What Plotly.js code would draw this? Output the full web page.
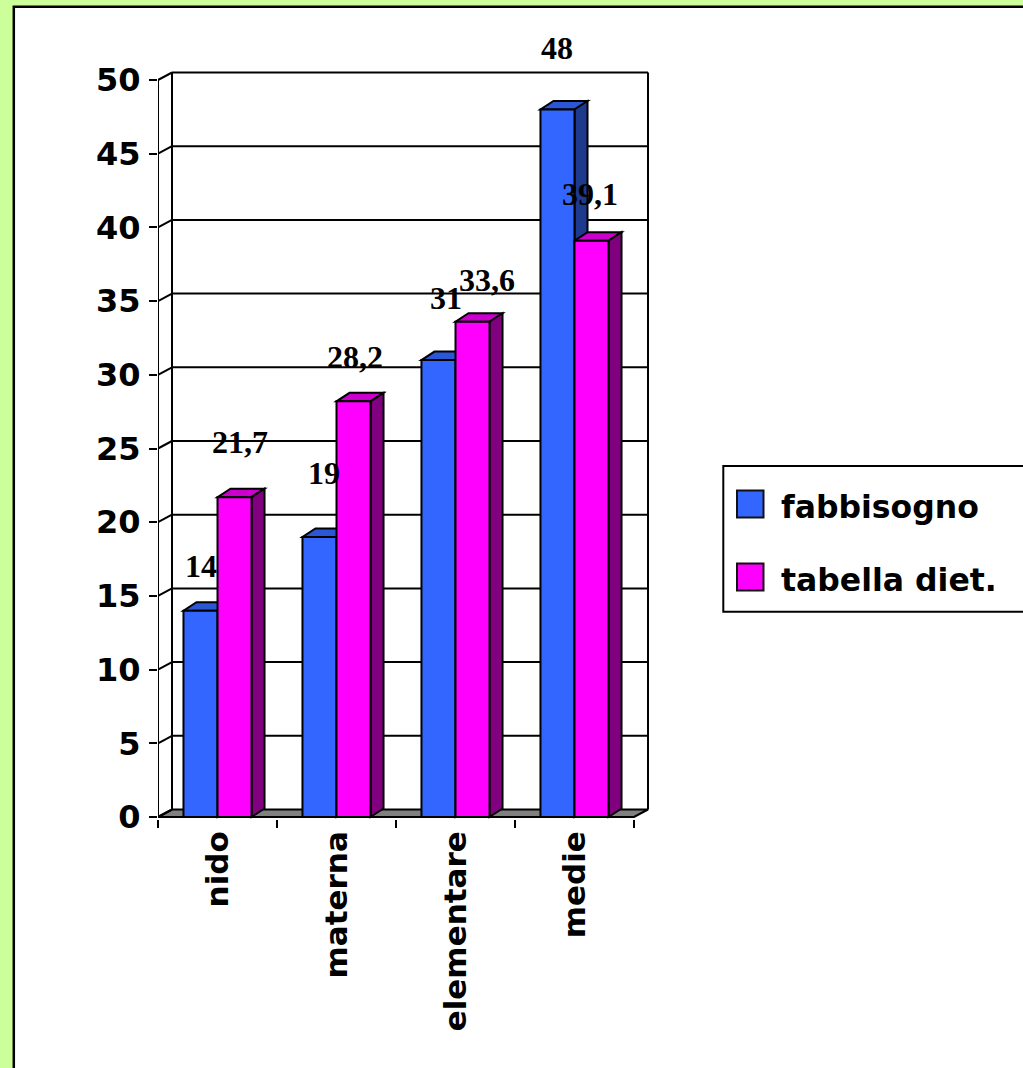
<!DOCTYPE html>
<html><head><meta charset="utf-8">
<script src="https://cdn.plot.ly/plotly-3.0.1.min.js"></script>
<style>html,body{margin:0;padding:0;background:#ccff99;} #chart{width:1023px;height:1068px;}</style>
</head><body><div id="chart"></div>
<script>
// ---- data ----
const categories = ['nido', 'materna', 'elementare', 'medie'];
const seriesNames = ['fabbisogno', 'tabella diet.'];
const fabbisogno = [14, 19, 31, 48];
const tabellaDiet = [21.7, 28.2, 33.6, 39.1];
const yTickValues = [0, 5, 10, 15, 20, 25, 30, 35, 40, 45, 50];

// ---- style / geometry ----
const W = 1023, H = 1068;
const PL = 158, PR = 652, PT = 68, PB = 819;
const CAT_PX = 119, Y0_PX = 817, PPU = 14.74;
const xr = [-0.5, -0.5 + (PR - PL) / CAT_PX];
const yr = [-(PB - Y0_PX) / PPU, (Y0_PX - PT) / PPU];
const WDX = 14 / CAT_PX, WDY = 7.5 / PPU, BDX = 13 / CAT_PX, BDY = 8.5 / PPU;
const BW = 0.286;
const ymax = yTickValues[yTickValues.length - 1];
const nCat = categories.length;
const styles = [
  {front: '#3366ff', top: '#2b56d6', side: '#1d3a8f', offset: -BW,
   labelDx: [1, 5, 8, 0], labelDy: [45, 64, 62, 61]},
  {front: '#ff00ff', top: '#cc00cc', side: '#800080', offset: 0,
   labelDx: [5, 1, 14, -2], labelDy: [55, 44, 42, 47]}
];
const series = [fabbisogno, tabellaDiet];
const px2x = p => (p - PL) / (PR - PL);
const py2y = p => (PB - p) / (PB - PT);
const LINE = {color: '#000', width: 2};

const shapes = [];
// outer white frame
shapes.push({type: 'rect', xref: 'paper', yref: 'paper', layer: 'below',
  x0: px2x(13.8), x1: px2x(1100), y0: py2y(6.7), y1: py2y(1150),
  fillcolor: '#ffffff', line: {color: '#000', width: 2.5}});
// floor
const xL = -0.5, xR = nCat - 0.5;
shapes.push({type: 'path', xref: 'x', yref: 'y', layer: 'below',
  path: `M ${xL},0 L ${xR},0 L ${xR + WDX},${WDY} L ${xL + WDX},${WDY} Z`,
  fillcolor: '#808080', line: LINE});
// back wall grid + side diagonals
yTickValues.forEach(v => {
  if (v > 0) shapes.push({type: 'line', xref: 'x', yref: 'y', layer: 'below',
    x0: xL + WDX, x1: xR + WDX, y0: v + WDY, y1: v + WDY, line: LINE});
  shapes.push({type: 'line', xref: 'x', yref: 'y', layer: 'below',
    x0: xL, x1: xL + WDX, y0: v, y1: v + WDY, line: LINE});
});
// wall verticals and front axis line
[[xL + WDX, WDY, ymax + WDY], [xR + WDX, WDY, ymax + WDY], [xL, 0, ymax]].forEach(s => {
  shapes.push({type: 'line', xref: 'x', yref: 'y', layer: 'below',
    x0: s[0], x1: s[0], y0: s[1], y1: s[2], line: LINE});
});
// 3D bar faces (top + side), computed from the data
series.forEach((vals, k) => {
  const st = styles[k];
  vals.forEach((v, i) => {
    const x0 = i + st.offset, x1 = x0 + BW;
    shapes.push({type: 'path', xref: 'x', yref: 'y', layer: 'below',
      path: `M ${x0},${v} L ${x1},${v} L ${x1 + BDX},${v + BDY} L ${x0 + BDX},${v + BDY} Z`,
      fillcolor: st.top, line: LINE});
    shapes.push({type: 'path', xref: 'x', yref: 'y', layer: 'below',
      path: `M ${x1},0 L ${x1 + BDX},${BDY} L ${x1 + BDX},${v + BDY} L ${x1},${v} Z`,
      fillcolor: st.side, line: LINE});
  });
});

// custom legend (large swatches)
shapes.push({type: 'rect', xref: 'paper', yref: 'paper',
  x0: px2x(723.3), x1: px2x(1100), y0: py2y(466), y1: py2y(611.7),
  fillcolor: 'rgba(0,0,0,0)', line: {color: '#000', width: 2}});
const legendRows = [504, 577];
const annotations = [];
seriesNames.forEach((name, k) => {
  const cy = legendRows[k];
  shapes.push({type: 'rect', xref: 'paper', yref: 'paper',
    x0: px2x(737), x1: px2x(763.5), y0: py2y(cy - 13.5), y1: py2y(cy + 13.5),
    fillcolor: styles[k].front, line: {color: '#111', width: 2}});
  annotations.push({xref: 'paper', yref: 'paper', x: px2x(779), y: py2y(cy + 3),
    xanchor: 'left', yanchor: 'middle', showarrow: false, text: name,
    font: {family: 'DejaVu Sans', size: 31.5, weight: 'bold', color: '#000'}});
});

// data labels
series.forEach((vals, k) => {
  const st = styles[k];
  vals.forEach((v, i) => {
    annotations.push({xref: 'x', yref: 'y', x: i + st.offset + BW / 2, y: v,
      xshift: st.labelDx[i], yshift: st.labelDy[i],
      xanchor: 'center', yanchor: 'middle', showarrow: false,
      text: String(v).replace('.', ','),
      font: {family: 'Liberation Serif', size: 32, weight: 'bold', color: '#000'}});
  });
});

const traces = series.map((vals, k) => ({
  type: 'bar', name: seriesNames[k], x: categories, y: vals,
  width: BW, offset: styles[k].offset,
  marker: {color: styles[k].front, line: {color: '#000', width: 2}},
  hoverinfo: 'x+y', showlegend: false
}));

const layout = {
  width: W, height: H,
  paper_bgcolor: '#ccff99', plot_bgcolor: 'rgba(0,0,0,0)',
  margin: {l: PL, r: W - PR, t: PT, b: H - PB, pad: 0, autoexpand: false},
  barmode: 'overlay', showlegend: false,
  xaxis: {type: 'category', range: xr, showgrid: false, zeroline: false, showline: false,
    tickson: 'boundaries', ticks: 'outside', ticklen: 8, tickwidth: 2, tickcolor: '#000',
    tickangle: -90, ticklabelstandoff: 5,
    tickfont: {family: 'DejaVu Sans', size: 31, weight: 'bold', color: '#000'}},
  yaxis: {range: yr, showgrid: false, zeroline: false, showline: false,
    tickmode: 'array', tickvals: yTickValues, ticktext: yTickValues.map(String),
    ticks: 'outside', ticklen: 8, tickwidth: 2, tickcolor: '#000', ticklabelstandoff: 2,
    tickfont: {family: 'DejaVu Sans', size: 32, weight: 'bold', color: '#000'}},
  shapes: shapes, annotations: annotations
};

Plotly.newPlot('chart', traces, layout, {displayModeBar: false, staticPlot: true});
</script></body></html>
